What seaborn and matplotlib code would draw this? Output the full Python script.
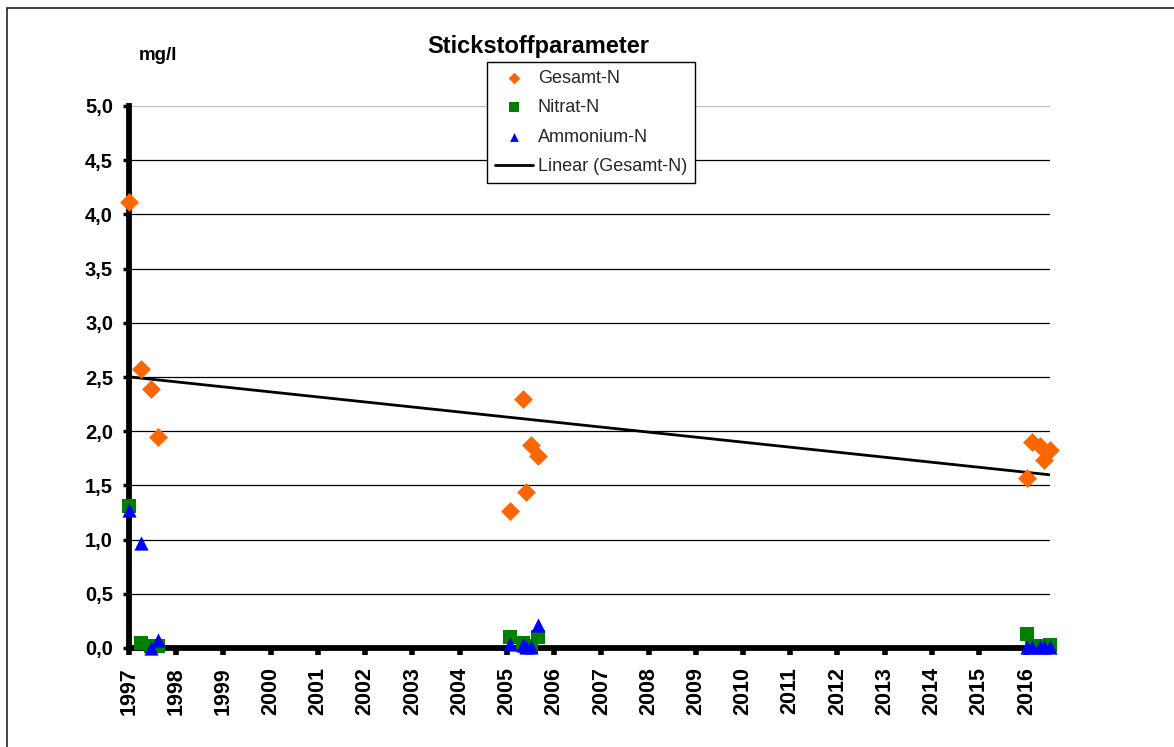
import matplotlib
matplotlib.use("Agg")
import matplotlib.pyplot as plt
import seaborn as sns
import numpy as np
from matplotlib.ticker import FixedLocator, FuncFormatter
from matplotlib.patches import Rectangle

# ---------------- data ----------------
dates = [1997.00, 1997.25, 1997.47, 1997.62,
         2005.06, 2005.34, 2005.41, 2005.51, 2005.66,
         2016.02, 2016.11, 2016.28, 2016.38, 2016.49]
gesamt_n = [4.11, 2.57, 2.39, 1.95,
            1.26, 2.30, 1.44, 1.87, 1.77,
            1.57, 1.90, 1.86, 1.73, 1.83]
nitrat_n = [1.31, 0.05, 0.02, 0.02,
            0.10, 0.05, 0.02, 0.02, 0.10,
            0.13, 0.02, 0.02, 0.02, 0.03]
ammonium_n = [1.27, 0.97, 0.00, 0.07,
              0.04, 0.03, 0.01, 0.01, 0.21,
              0.01, 0.01, 0.01, 0.01, 0.01]
year_ticks = list(range(1997, 2017))
y_ticks = [0.0, 0.5, 1.0, 1.5, 2.0, 2.5, 3.0, 3.5, 4.0, 4.5, 5.0]

title = "Stickstoffparameter"
unit = "mg/l"
labels = ["Gesamt-N", "Nitrat-N", "Ammonium-N", "Linear (Gesamt-N)"]

# ---------------- style ----------------
sns.set_theme(style="white")
plt.rcParams["font.family"] = ["Liberation Sans", "DejaVu Sans"]

W, H = 1174, 747
fig = plt.figure(figsize=(W / 100, H / 100), dpi=100)
fig.patch.set_facecolor("white")
ax = fig.add_axes([129 / W, 1 - 648 / H, (1050 - 129) / W, (648 - 106) / H])
ax.set_facecolor("white")

ORANGE = "#FF6600"
GREEN = "#008000"
BLUE = "#0000FF"

sns.scatterplot(x=dates, y=gesamt_n, marker="D", s=92, color=ORANGE,
                linewidth=0, label=labels[0], ax=ax, zorder=5, clip_on=False)
sns.scatterplot(x=dates, y=nitrat_n, marker="s", s=112, color=GREEN,
                linewidth=0, label=labels[1], ax=ax, zorder=4, clip_on=False)
sns.scatterplot(x=dates, y=ammonium_n, marker="^", s=105, color=BLUE,
                linewidth=0, label=labels[2], ax=ax, zorder=6, clip_on=False)
sns.regplot(x=dates, y=gesamt_n, scatter=False, ci=None, truncate=True,
            color="black", ax=ax, label=labels[3],
            line_kws={"lw": 2.0, "zorder": 3})

ax.set_xlim(1997, 2016.5)
ax.set_ylim(0, 5)
ax.set_xlabel("")
ax.set_ylabel("")

# grid
ax.yaxis.set_major_locator(FixedLocator(y_ticks))
ax.yaxis.set_major_formatter(FuncFormatter(lambda v, p: f"{v:.1f}".replace(".", ",")))
ax.xaxis.set_major_locator(FixedLocator(year_ticks))
ax.xaxis.set_major_formatter(FuncFormatter(lambda v, p: f"{int(round(v))}"))
ax.yaxis.grid(True, color="black", lw=0.9)
ax.xaxis.grid(False)
ax.set_axisbelow(True)
for gl, v in zip(ax.get_ygridlines(), y_ticks):
    if v == 5.0:
        gl.set_color("#BBBBBB")

# spines
for s in ["top", "right"]:
    ax.spines[s].set_visible(False)
for s in ["left", "bottom"]:
    ax.spines[s].set_visible(True)
    ax.spines[s].set_color("black")
    ax.spines[s].set_linewidth(4.2)
    ax.spines[s].set_zorder(2.6)

ax.tick_params(axis="y", which="major", left=True, direction="out",
               length=4.5, width=2.5, color="black", pad=7,
               labelsize=14.5, labelcolor="black")
ax.tick_params(axis="x", which="major", bottom=True, direction="out",
               length=5, width=4, color="black", pad=9,
               labelsize=15.5, labelcolor="black", labelrotation=90)
for lab in ax.get_yticklabels() + ax.get_xticklabels():
    lab.set_fontweight("bold")
for lab in ax.get_xticklabels():
    lab.set_va("top")
    lab.set_ha("center")

# legend
handles, labs = ax.get_legend_handles_labels()
hmap = dict(zip(labs, handles))
leg = ax.legend([hmap[l] for l in labels], labels,
                loc="upper left", bbox_to_anchor=(487 / W, 1 - 62 / H),
                bbox_transform=fig.transFigure, borderaxespad=0,
                frameon=True, fancybox=False, framealpha=1,
                edgecolor="black", fontsize=13, markerscale=0.62,
                handlelength=2.1, handletextpad=0.3, labelspacing=0.7,
                borderpad=0.42)
leg.get_frame().set_linewidth(1.0)
leg.set_zorder(10)

# texts
fig.text(538 / W, 1 - 46 / H, title, ha="center", va="center",
         fontsize=17, fontweight="bold", color="black")
fig.text(158 / W, 1 - 56 / H, unit, ha="center", va="center",
         fontsize=13.5, fontweight="bold", color="black")

# outer frame (continues past the right/bottom edge)
fig.patches.append(Rectangle((7 / W, -0.1), 1.2, 1 - 8 / H + 0.1,
                             transform=fig.transFigure, fill=False,
                             edgecolor="#222222", lw=1.2))

fig.savefig("out.png", dpi=100)
